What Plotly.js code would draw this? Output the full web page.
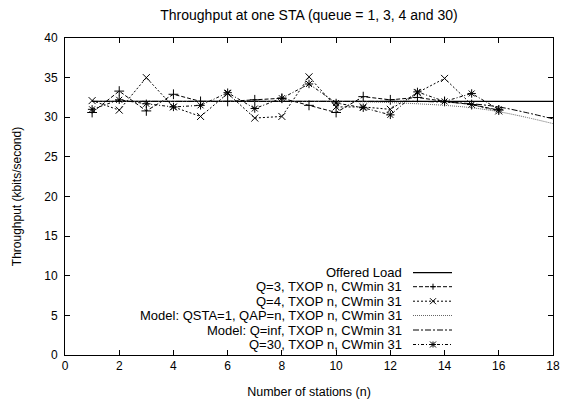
<!DOCTYPE html>
<html>
<head>
<meta charset="utf-8">
<script src="https://cdn.plot.ly/plotly-3.0.1.min.js"></script>
<style>html,body{margin:0;padding:0;background:#fff;} #chart{width:566px;height:403px;}</style>
</head>
<body>
<div id="chart"></div>
<script>
// ---- data ----
var nMeasured = [1,2,3,4,5,6,7,8,9,10,11,12,13,14,15,16];
var nModel = [1,2,3,4,5,6,7,8,9,10,11,12,13,14,15,16,17,18];
var offeredLoad = [32,32,32,32,32,32,32,32,32,32,32,32,32,32,32,32,32,32];
var q3 = [30.6,33.3,30.8,32.9,32.0,32.0,32.2,32.4,31.5,30.6,32.6,32.2,32.5,32.0,31.6,30.9];
var q4 = [32.1,30.9,35.0,31.3,30.1,33.0,29.9,30.1,35.1,31.3,31.3,31.0,33.1,34.9,31.6,30.8];
var modelQsta1 = [32,32,32,32,32,32,32,32,32,32,31.95,31.85,31.7,31.5,31.2,30.7,30.0,29.2];
var modelQinf = [32,32,32,32,32,32,32,32,32,32,32,32,32,31.9,31.7,31.3,30.6,29.8];
var q30 = [31.0,32.2,31.7,31.3,31.5,33.1,31.1,32.4,34.2,31.8,31.2,30.3,33.2,32.0,33.0,31.0];
var seriesNames = ["Offered Load","Q=3, TXOP n, CWmin 31","Q=4, TXOP n, CWmin 31",
  "Model: QSTA=1, QAP=n, TXOP n, CWmin 31","Model: Q=inf, TXOP n, CWmin 31","Q=30, TXOP n, CWmin 31"];
var xTicks = [0,2,4,6,8,10,12,14,16,18];
var yTicks = [0,5,10,15,20,25,30,35,40];

var FONT = "Liberation Sans, Arial, Helvetica, sans-serif";
var styles = [
  {dash:"solid", color:"#000", width:1.2, marker:null},
  {dash:"4px,2px", color:"#000", width:1, marker:"cross-thin-open"},
  {dash:"2px,2px", color:"#000", width:1, marker:"x-thin-open"},
  {dash:"1px,1px", color:"#666", width:1, marker:null},
  {dash:"6px,2px,2px,2px", color:"#000", width:1, marker:null},
  {dash:"3px,2px,1px,2px", color:"#000", width:1, marker:"asterisk-open"}
];
var xs = [nModel, nMeasured, nMeasured, nModel, nModel, nMeasured];
var ys = [offeredLoad, q3, q4, modelQsta1, modelQinf, q30];

var traces = [];
for (var i=0;i<ys.length;i++){
  var s = styles[i];
  var t = {x:xs[i], y:ys[i], name:seriesNames[i], type:"scatter",
    mode: s.marker ? "lines+markers" : "lines",
    line:{color:s.color, width:s.width, dash:s.dash, shape:(i===3||i===4)?"spline":"linear"},
    showlegend:false};
  if (s.marker) t.marker = {symbol:s.marker, size:7, color:"#000", line:{color:"#000", width:1}};
  traces.push(t);
}

// custom legend (text on the left, sample on the right, gnuplot style)
var L = 65, R = 553, T = 38, B = 355;
function px2x(p){return (p-L)/(R-L);}
function py2y(p){return (B-p)/(B-T);}
var rowY = [272.7,286.7,301.2,315.5,330,344.5];
var annotations = [], shapes = [];
for (var k=0;k<seriesNames.length;k++){
  var yy = py2y(rowY[k]);
  annotations.push({xref:"paper", yref:"paper", x:px2x(404), y:yy, xanchor:"right", yanchor:"middle",
    text:seriesNames[k], showarrow:false, font:{family:FONT, size:13, color:"#000"}});
  var s2 = styles[k];
  shapes.push({type:"line", xref:"paper", yref:"paper", x0:px2x(413), x1:px2x(452), y0:yy, y1:yy,
    line:{color:s2.color, width:s2.width, dash:s2.dash}});
  var cx = px2x(433), d = 3;
  var dx = d/(R-L), dy = d/(B-T);
  if (s2.marker==="cross-thin-open" || s2.marker==="asterisk-open"){
    shapes.push({type:"line", xref:"paper", yref:"paper", x0:cx-dx, x1:cx+dx, y0:yy, y1:yy, line:{color:"#000", width:1}});
    shapes.push({type:"line", xref:"paper", yref:"paper", x0:cx, x1:cx, y0:yy-dy, y1:yy+dy, line:{color:"#000", width:1}});
  }
  if (s2.marker==="x-thin-open" || s2.marker==="asterisk-open"){
    shapes.push({type:"line", xref:"paper", yref:"paper", x0:cx-dx, x1:cx+dx, y0:yy-dy, y1:yy+dy, line:{color:"#000", width:1}});
    shapes.push({type:"line", xref:"paper", yref:"paper", x0:cx-dx, x1:cx+dx, y0:yy+dy, y1:yy-dy, line:{color:"#000", width:1}});
  }
}

var axisCommon = {showgrid:false, zeroline:false, showline:true, linecolor:"#000", linewidth:1,
  mirror:"allticks", ticks:"inside", ticklen:5, tickcolor:"#000", tickwidth:1,
  tickfont:{family:FONT, size:12, color:"#000"}};

var layout = {
  width:566, height:403,
  margin:{l:L, r:566-R, t:T, b:403-B},
  paper_bgcolor:"#fff", plot_bgcolor:"#fff",
  font:{family:FONT, size:12, color:"#000"},
  title:{text:"Throughput at one STA (queue = 1, 3, 4 and 30)", x:0.5, xref:"paper", xanchor:"center",
    y:1-15/403, yref:"container", yanchor:"middle", font:{family:FONT, size:14, color:"#000"}},
  xaxis: Object.assign({}, axisCommon, {range:[0,18], tickvals:xTicks, ticktext:xTicks.map(String),
    title:{text:"Number of stations (n)", font:{family:FONT, size:12.5, color:"#000"}, standoff:14}}),
  yaxis: Object.assign({}, axisCommon, {range:[0,40], tickvals:yTicks, ticktext:yTicks.map(String),
    ticklabelstandoff:4,
    title:{text:"Throughput (kbits/second)", font:{family:FONT, size:12, color:"#000"}, standoff:20}}),
  showlegend:false,
  annotations:annotations,
  shapes:shapes
};
Plotly.newPlot("chart", traces, layout, {staticPlot:true, displayModeBar:false});
</script>
</body>
</html>
